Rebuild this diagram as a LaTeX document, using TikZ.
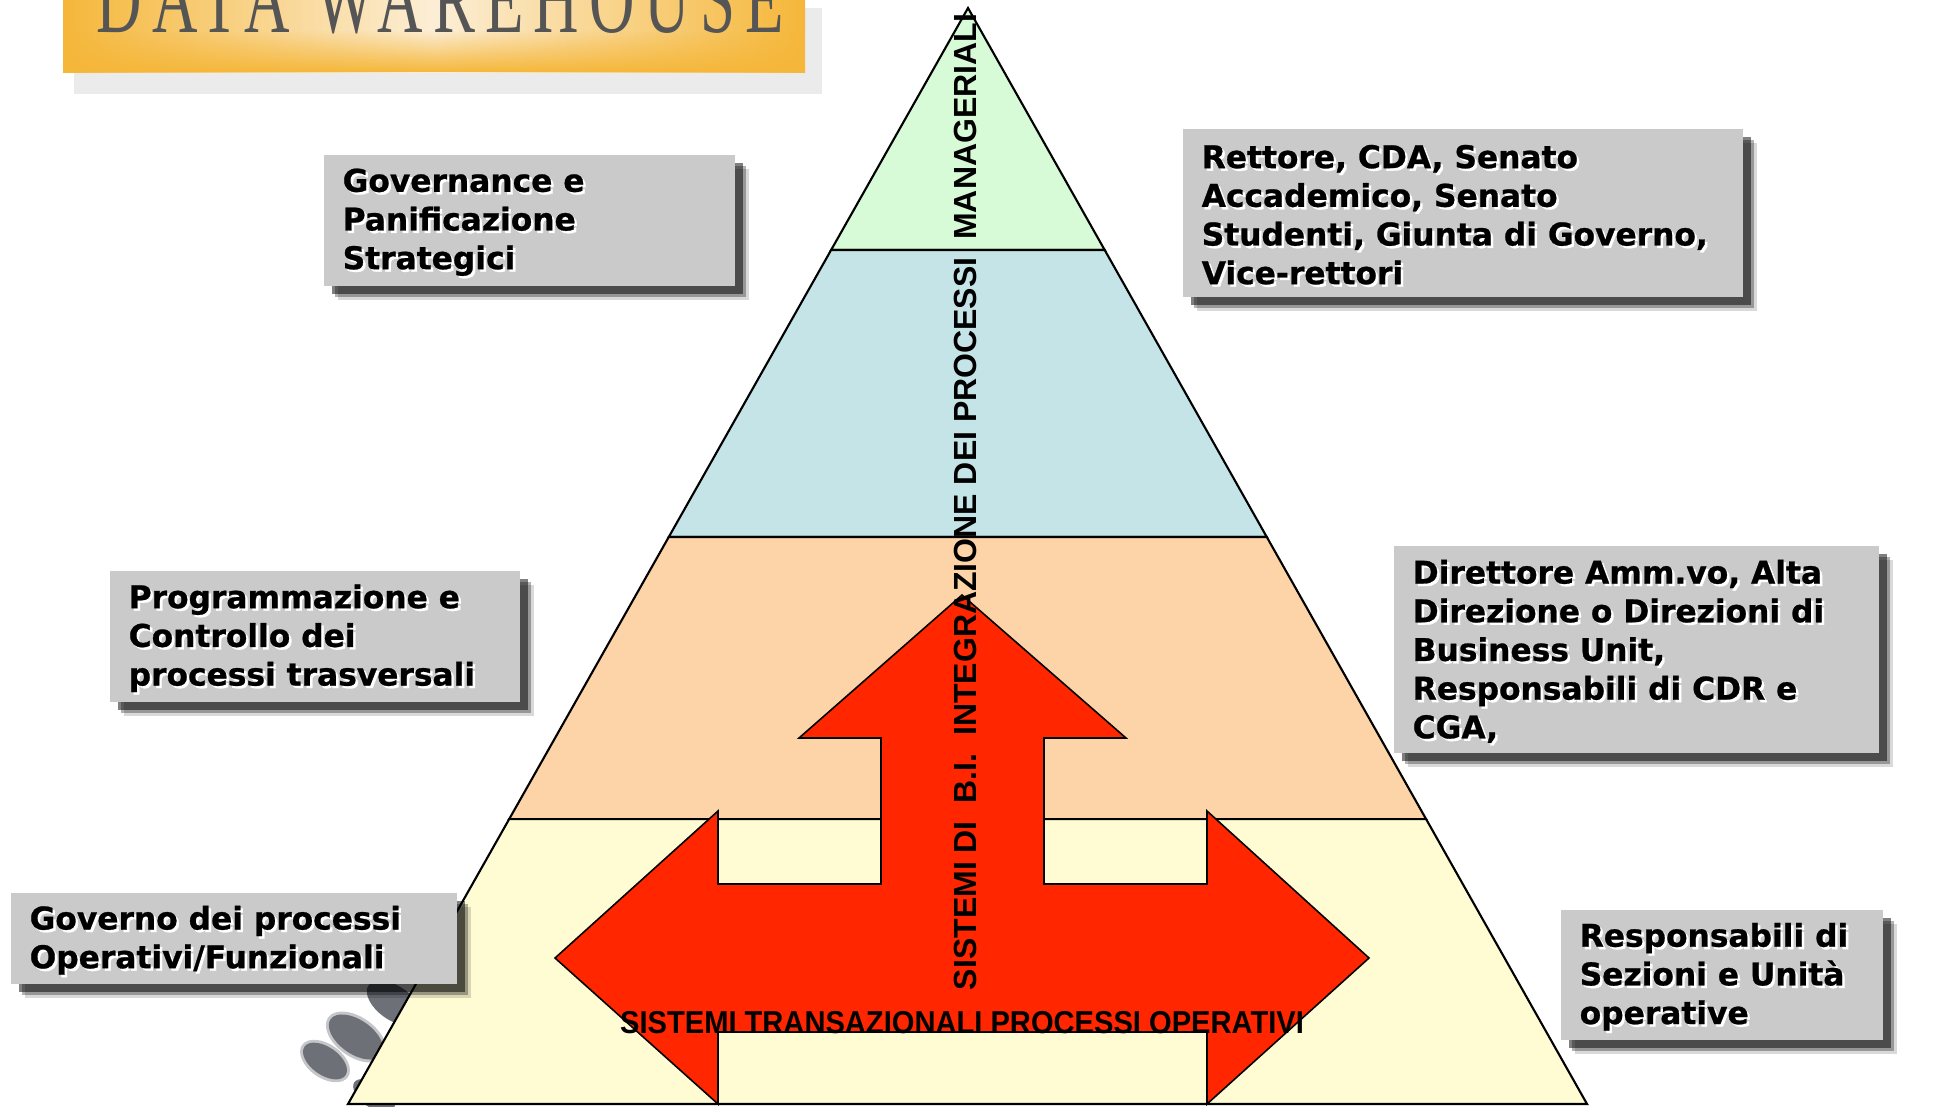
\documentclass[tikz,border=0pt]{standalone}
\usepackage{fontspec}
\usepackage{xcolor}
\usepackage{tikz}
\usetikzlibrary{calc,shadows,fadings}

\newfontfamily\verdanafont{DejaVu Sans}[FakeBold=0.8]
\newfontfamily\arialfont{Liberation Sans}
\newfontfamily\titlefont{Liberation Serif}[LetterSpace=16]

\definecolor{bandgreen}{RGB}{214,251,214}
\definecolor{bandblue}{RGB}{196,228,232}
\definecolor{bandpeach}{RGB}{253,212,167}
\definecolor{bandyellow}{RGB}{255,252,212}
\definecolor{arrowred}{RGB}{255,38,0}
\definecolor{boxgray}{RGB}{202,202,202}
\definecolor{blobgray}{RGB}{110,112,120}
\definecolor{titleorange}{RGB}{245,183,58}
\definecolor{titlelight}{RGB}{252,238,214}
\definecolor{titlegray}{RGB}{85,85,85}

\tikzset{
  band/.style={draw=black, line width=0.6pt},
  bigarrow/.style={draw=black, line width=0.45pt, fill=arrowred},
  infobox/.style={fill=boxgray, anchor=north west, inner sep=0pt,
    drop shadow={shadow xshift=0.14cm, shadow yshift=-0.14cm, fill=black, opacity=0.15},
    drop shadow={shadow xshift=0.11cm, shadow yshift=-0.11cm, fill=black, opacity=0.3},
    drop shadow={shadow xshift=0.08cm, shadow yshift=-0.08cm, fill=black, opacity=0.5}},
  boxtext/.style={anchor=west, align=left, inner xsep=0.19cm, inner ysep=0pt, yshift=-0.02cm,
    font=\verdanafont\bfseries\fontsize{8.9}{11}\selectfont},
  vtext/.style={font=\arialfont\bfseries\fontsize{9.1}{11}\selectfont, inner sep=0pt},
  htext/.style={font=\arialfont\bfseries\fontsize{9}{10}\selectfont, inner sep=0pt}
}

% text of a grey box, with its light halo
\newcommand{\boxlabel}[3]{%
  \node[boxtext, text=white, xshift=0.025cm, yshift=-0.025cm] at (#2.west) {#3};
  \node[boxtext] (#1) at (#2.west) {#3};}

\begin{document}
\begin{tikzpicture}[x=0.01cm, y=-0.01cm]
\useasboundingbox (0,0) rectangle (1934,1106);

% title
\fill[black!18] (80,12) rectangle (816,88);
\fill[black!8] (74,8) rectangle (822,94);
\shade[left color=titleorange, right color=titleorange, middle color=titlelight] (63,-10) rectangle (805,72);
\fill[titleorange, path fading=north] (63,30) rectangle (805,72);
\node[font=\titlefont\fontsize{20.8}{21}\selectfont, text=titlegray, anchor=base west, inner sep=0pt] (title) at (96,32) {\scalebox{0.86}[1.35]{DATA WAREHOUSE}};

% grey blobs behind the pyramid
\fill[blobgray, opacity=0.4, rotate around={-35:(325,1061)}] (325,1061) ellipse [x radius=28, y radius=17];
\fill[blobgray, rotate around={-35:(325,1061)}] (325,1061) ellipse [x radius=25, y radius=14];
\fill[blobgray, opacity=0.4, rotate around={-35:(356,1037)}] (356,1037) ellipse [x radius=34, y radius=20];
\fill[blobgray, rotate around={-35:(356,1037)}] (356,1037) ellipse [x radius=31, y radius=17];
\fill[blobgray, rotate around={-35:(394,1003)}] (394,1003) ellipse [x radius=31, y radius=17];
\fill[blobgray, rotate around={-35:(374,1096)}] (374,1096) ellipse [x radius=24, y radius=12];

% pyramid
\coordinate (apex) at (968,8);
\coordinate (bl) at (348,1104);
\coordinate (br) at (1587,1104);
\coordinate (l1) at ($(apex)!0.2208!(bl)$);
\coordinate (r1) at ($(apex)!0.2208!(br)$);
\coordinate (l2) at ($(apex)!0.4827!(bl)$);
\coordinate (r2) at ($(apex)!0.4827!(br)$);
\coordinate (l3) at ($(apex)!0.7400!(bl)$);
\coordinate (r3) at ($(apex)!0.7400!(br)$);

\draw[band, fill=bandgreen] (apex) -- (r1) -- (l1) -- cycle;
\draw[band, fill=bandblue] (l1) -- (r1) -- (r2) -- (l2) -- cycle;
\draw[band, fill=bandpeach] (l2) -- (r2) -- (r3) -- (l3) -- cycle;
\draw[band, fill=bandyellow] (l3) -- (r3) -- (br) -- (bl) -- cycle;

% red arrows
\draw[bigarrow] (555,958) -- (718,811) -- (718,884) -- (881,884) -- (881,738)
  -- (799,738) -- (962,595) -- (1126,738) -- (1044,738) -- (1044,884)
  -- (1207,884) -- (1207,811) -- (1369,958) -- (1207,1104) -- (1207,1032)
  -- (718,1032) -- (718,1104) -- cycle;

\node[vtext, rotate=90] (bi) at (965,502) {SISTEMI DI\ \ B.I.\ \ INTEGRAZIONE DEI PROCESSI\ \ MANAGERIALI};
\node[htext, anchor=base] (trans) at (962,1033) {\scalebox{0.92}[1]{SISTEMI TRANSAZIONALI PROCESSI OPERATIVI}};

% grey boxes
\node[infobox, minimum width=4.11cm, minimum height=1.31cm] (govbox) at (323,154) {};
\boxlabel{gov}{govbox}{Governance e\\Panificazione\\Strategici}

\node[infobox, minimum width=5.60cm, minimum height=1.68cm] (retbox) at (1182,128) {};
\boxlabel{ret}{retbox}{Rettore, CDA, Senato\\Accademico, Senato\\Studenti, Giunta di Governo,\\Vice-rettori}

\node[infobox, minimum width=4.10cm, minimum height=1.31cm] (progbox) at (109,570) {};
\boxlabel{prog}{progbox}{Programmazione e\\Controllo dei\\processi trasversali}

\node[infobox, minimum width=4.85cm, minimum height=2.07cm] (dirbox) at (1393,545) {};
\boxlabel{dir}{dirbox}{Direttore Amm.vo, Alta\\Direzione o Direzioni di\\Business Unit,\\Responsabili di CDR e\\CGA,}

\node[infobox, minimum width=4.46cm, minimum height=0.91cm] (opbox) at (10,892) {};
\boxlabel{op}{opbox}{Governo dei processi\\Operativi/Funzionali}

\node[infobox, minimum width=3.22cm, minimum height=1.30cm] (respbox) at (1560,909) {};
\boxlabel{resp}{respbox}{Responsabili di\\Sezioni e Unità\\operative}
\end{tikzpicture}
\end{document}
